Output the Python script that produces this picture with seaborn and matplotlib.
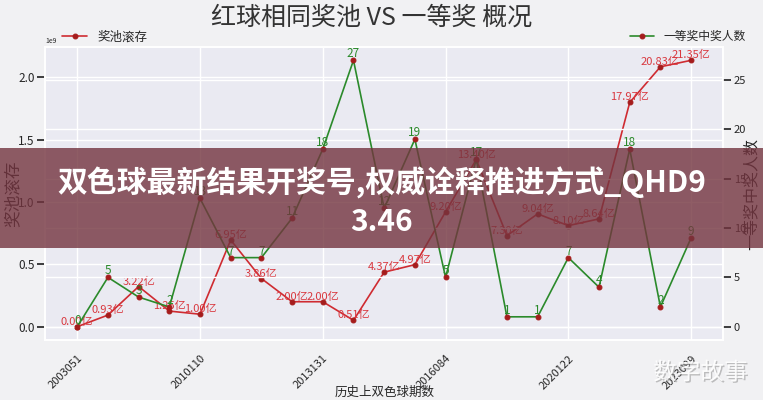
import numpy as np
import pandas as pd
import matplotlib
matplotlib.use('Agg')
import matplotlib.pyplot as plt
import matplotlib.patheffects as pe
from matplotlib.patches import Rectangle
import seaborn as sns

# 数据
tick_labels = ['2003051', '2010110', '2013131', '2016084', '2020122', '2023099']
pool_yi = [0.00, 0.93, 3.22, 1.25, 1.00, 6.95, 3.86, 2.00, 2.00, 0.51, 4.37,
           4.97, 9.20, 13.40, 7.30, 9.04, 8.10, 8.64, 17.97, 20.83, 21.35]
winners = [0, 5, 3, 2, 13, 7, 7, 11, 18, 27, 12, 19, 5, 17, 1, 1, 7, 4, 18, 2, 9]

df = pd.DataFrame({'idx': np.arange(len(pool_yi)),
                   'pool': np.array(pool_yi) * 1e8,
                   'win': winners})

sns.set_theme(style='darkgrid')
plt.rcParams['font.family'] = ['Noto Sans CJK SC', 'DejaVu Sans']
plt.rcParams['axes.unicode_minus'] = False

red = '#cf2b31'
red_txt = '#d9383f'
green = '#2b8a2b'
dot = '#a51c1c'

fig, ax = plt.subplots(figsize=(7.63, 4.0), dpi=100)
fig.patch.set_facecolor('#f1f1f3')
fig.subplots_adjust(left=0.059, right=0.948, top=0.8825, bottom=0.15)

sns.lineplot(data=df, x='idx', y='pool', ax=ax, color=red, lw=1.2,
             marker='o', markersize=3.5, markerfacecolor=dot,
             markeredgecolor=dot, label='奖池滚存')
for i, v in enumerate(pool_yi):
    ax.text(i, v * 1e8, f'{v:.2f}亿', color=red_txt, fontsize=8,
            ha='center', va='bottom')

ax2 = ax.twinx()
sns.lineplot(data=df, x='idx', y='win', ax=ax2, color=green, lw=1.2,
             marker='o', markersize=3.5, markerfacecolor=dot,
             markeredgecolor=dot, label='一等奖中奖人数')
for i, n in enumerate(winners):
    ax2.text(i, n, str(n), color=green, fontsize=8.5, ha='center', va='bottom')

ax.set_xlim(-1.05, 21.05)
ax.set_xticks(np.arange(0, 21, 4))
ax.set_xticklabels(tick_labels, rotation=45, ha='right', rotation_mode='anchor', fontsize=8)
ax.tick_params(axis='y', labelsize=8.5, pad=1.5)
ax.yaxis.get_offset_text().set_fontsize(5)
ax2.tick_params(axis='y', labelsize=8, pad=1.5)
ax2.grid(True)

ax.set_xlabel('历史上双色球期数', fontsize=9)
ax.xaxis.set_label_coords(0.5, -0.155)
ax.set_ylabel('奖池滚存', fontsize=12)
ax.yaxis.set_label_coords(-0.034, 0.5)
ax2.set_ylabel('一等奖中奖人数', fontsize=11.5)
ax2.yaxis.set_label_coords(1.03, 0.5)

ax.legend(loc='center left', bbox_to_anchor=(0.018, 1.035), frameon=False,
          fontsize=9, borderaxespad=0)
ax2.legend(loc='center right', bbox_to_anchor=(1.04, 1.035), frameon=False,
           fontsize=8.5, borderaxespad=0)

fig.text(0.4875, 0.957, '红球相同奖池 VS 一等奖 概况', fontsize=18,
         ha='center', va='center', color='#333333')

# 覆盖横幅
fig.patches.append(Rectangle((0, 1 - 248 / 400), 1, 100 / 400, transform=fig.transFigure,
                             facecolor='#73343f', alpha=0.8, zorder=10, edgecolor='none'))
fig.text(0.5, 1 - 183 / 400, '双色球最新结果开奖号,权威诠释推进方式_QHD9', fontsize=21.5,
         fontweight='bold', color='white', ha='center', va='center', zorder=11)
fig.text(0.5, 1 - 222 / 400, '3.46', fontsize=21.5, fontweight='bold',
         color='white', ha='center', va='center', zorder=11)

# 水印
fig.text(0.918, 1 - 373 / 400, '数字故事', fontsize=17, color='white', alpha=0.9,
         ha='center', va='center', zorder=12,
         path_effects=[pe.withSimplePatchShadow(offset=(1, -1), shadow_rgbFace='#888888', alpha=0.5)])

fig.savefig('out.png', dpi=100, facecolor=fig.get_facecolor())
